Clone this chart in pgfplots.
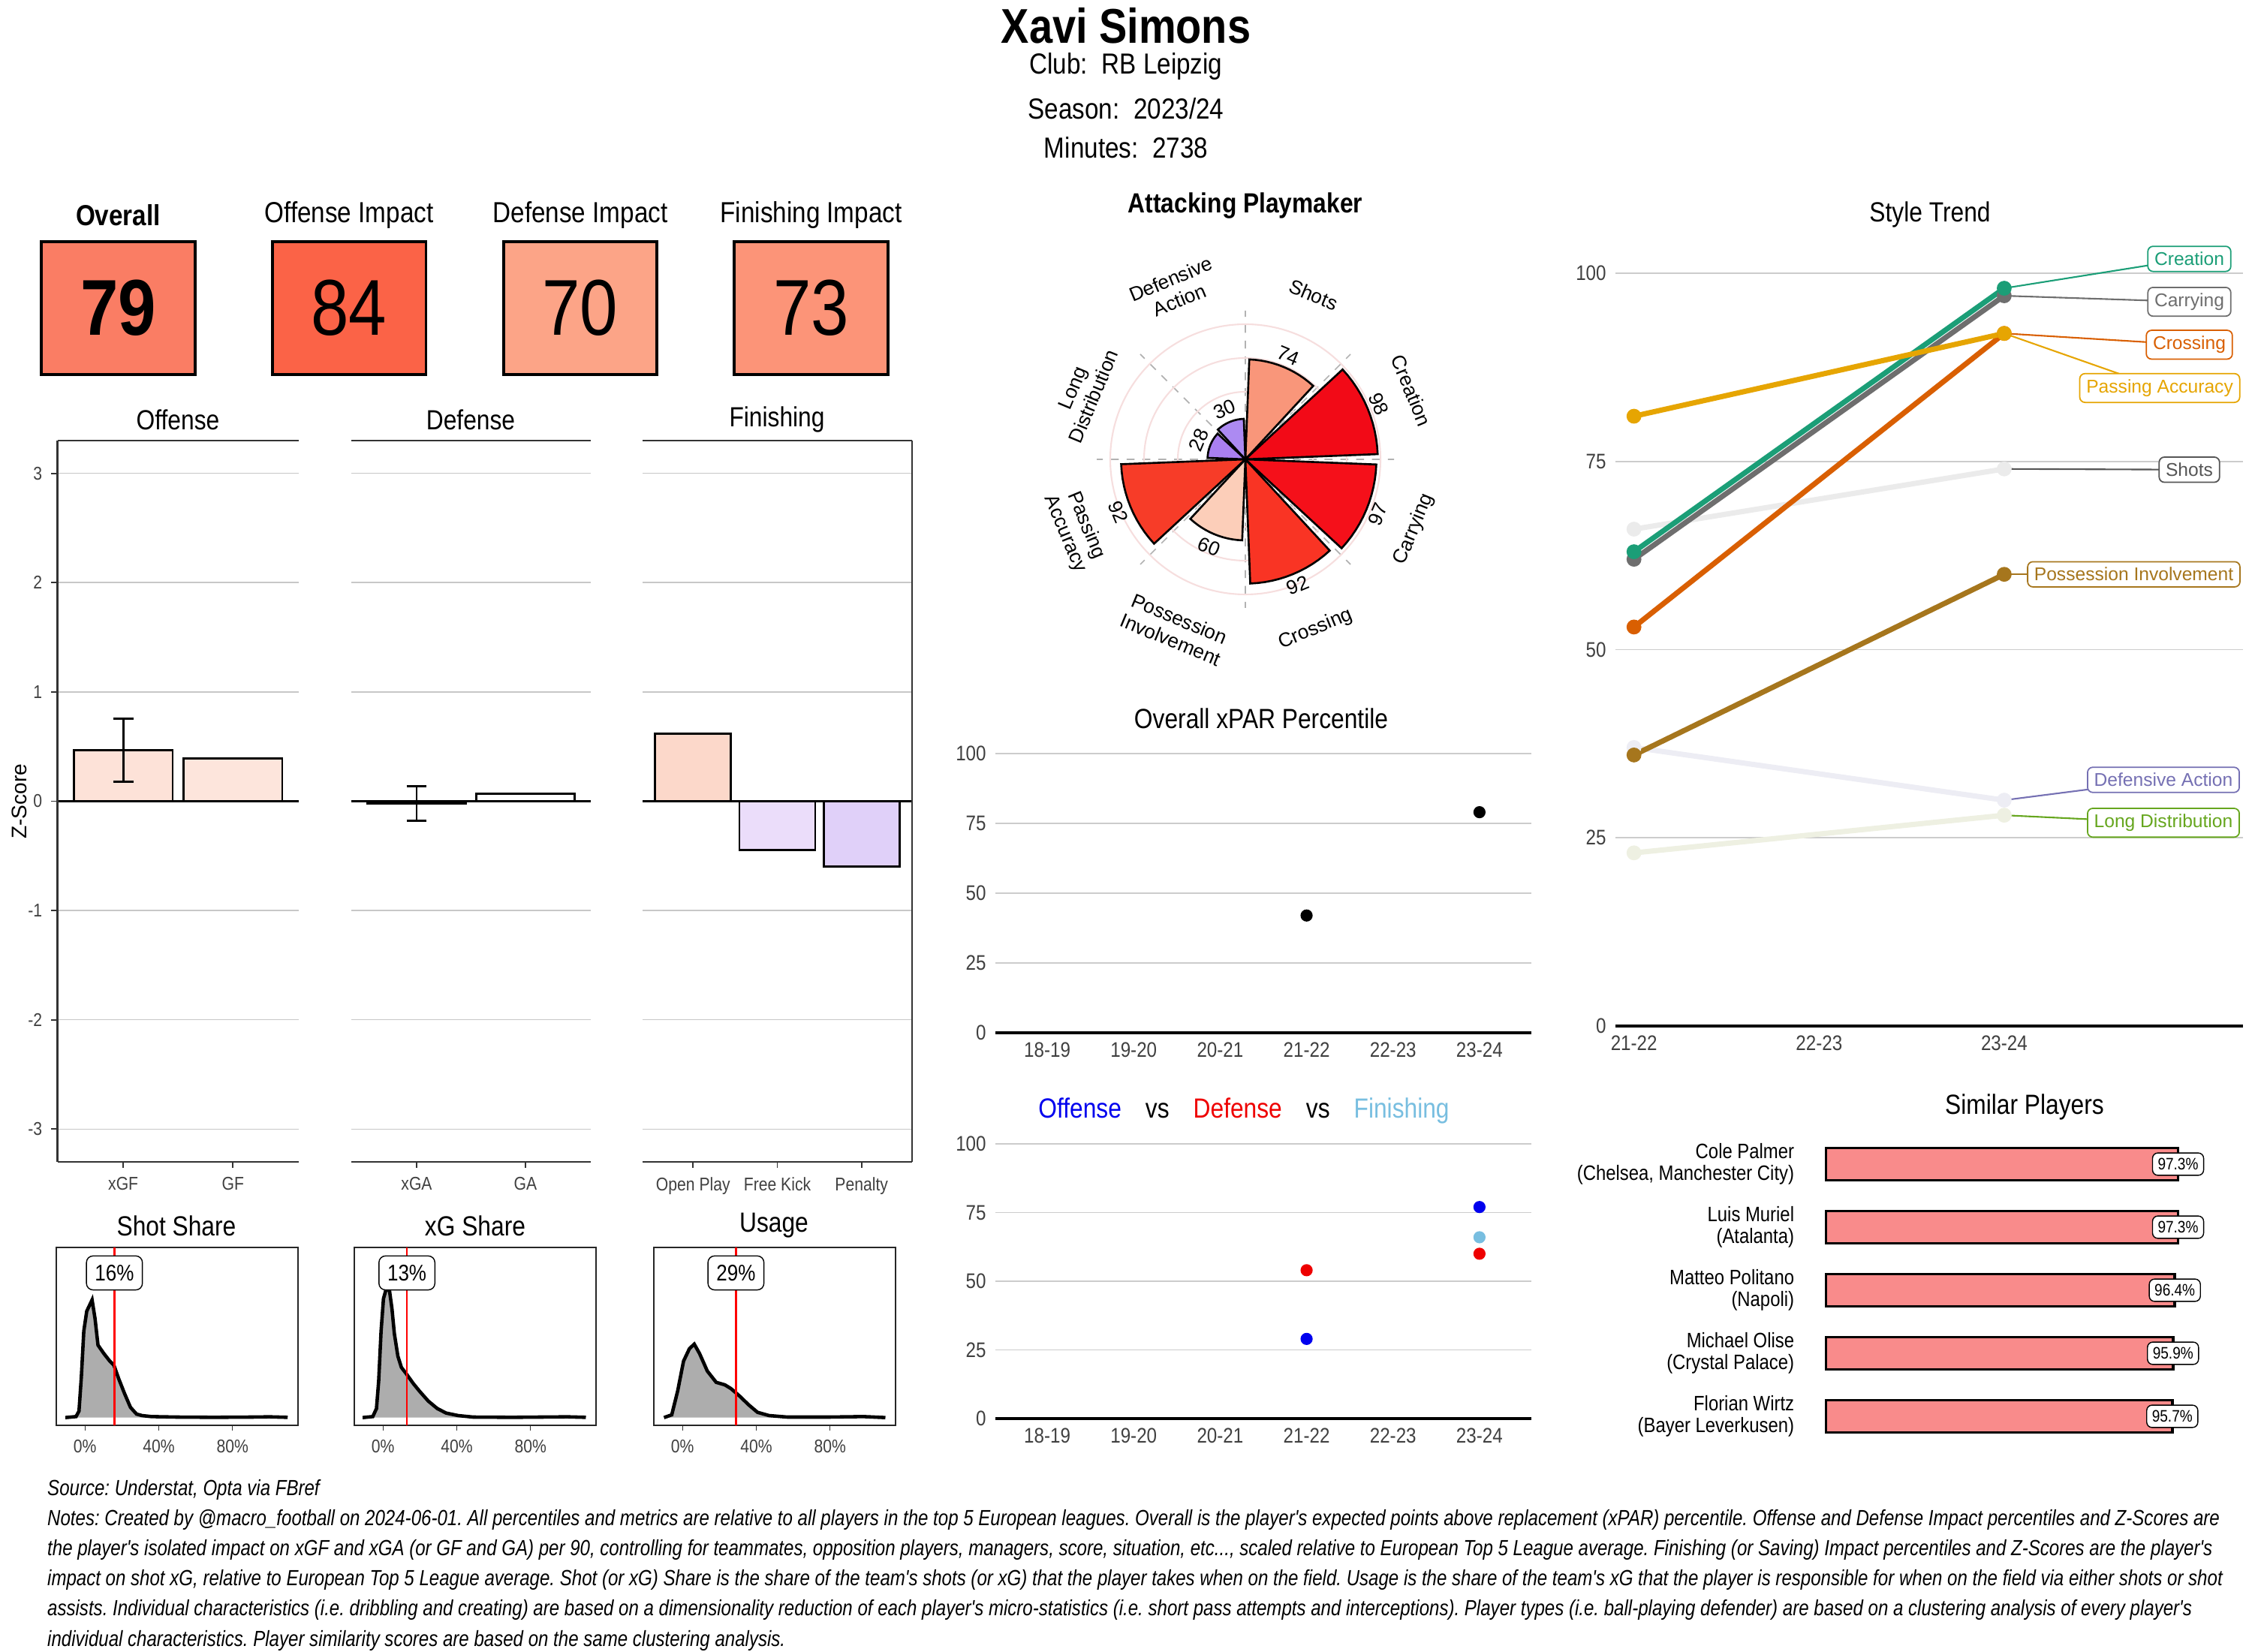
\documentclass[border=0pt]{standalone}
\usepackage{fontspec}
\setmainfont[FakeStretch=0.86]{Liberation Sans}
\newfontfamily\arial{Liberation Sans}
\newfontfamily\notefont[FakeStretch=0.825]{Liberation Sans}
\usepackage{pgfplots}
\usepackage{pgfplotstable}
\pgfplotsset{compat=1.18}
\usepgfplotslibrary{polar}

\newcommand{\fs}[2]{\fontsize{#1}{#2}\selectfont}

% tiles
\definecolor{b79}{HTML}{FA7D64}
\definecolor{b84}{HTML}{FB6347}
\definecolor{b70}{HTML}{FCA487}
\definecolor{b73}{HTML}{FC9478}
% z-score bars
\definecolor{zxgf}{HTML}{FDE2D8}
\definecolor{zgf}{HTML}{FDE5DC}
\definecolor{zop}{HTML}{FCD8CA}
\definecolor{zfk}{HTML}{EBDDFA}
\definecolor{zpen}{HTML}{E0D0F9}
% polar
\definecolor{cShots}{HTML}{F9967A}
\definecolor{cCreat}{HTML}{F20A17}
\definecolor{cCarry}{HTML}{F5101A}
\definecolor{cCross}{HTML}{F93424}
\definecolor{cPoss}{HTML}{FCCEB9}
\definecolor{cPass}{HTML}{F73C28}
\definecolor{cLong}{HTML}{A97FF0}
\definecolor{cDef}{HTML}{AC8AF2}
\definecolor{pgrid}{HTML}{F6DEDE}
% style trend (Dark2)
\definecolor{tCreat}{HTML}{1B9E77}
\definecolor{tCarry}{HTML}{6E6E6E}
\definecolor{tCross}{HTML}{D95F02}
\definecolor{tPass}{HTML}{E6A502}
\definecolor{tPoss}{HTML}{A6761D}
\definecolor{tDef}{HTML}{7570B3}
\definecolor{tLong}{HTML}{66A61E}
\definecolor{tShots}{HTML}{555555}
\definecolor{fShots}{HTML}{EBEBEB}
\definecolor{fDef}{HTML}{EDEDF4}
\definecolor{fLong}{HTML}{EEF0E2}
% misc
\definecolor{oblue}{HTML}{0000EE}
\definecolor{dred}{HTML}{EE0000}
\definecolor{fblue}{HTML}{78BEE0}
\definecolor{simpink}{HTML}{F98B8B}

% one polar bar: start angle, end angle, value, colour
\newcommand{\sector}[4]{%
  \gdef\pts{}%
  \foreach \k in {0,...,12}{%
    \pgfmathsetmacro\ang{(#1)+((#2)-(#1))*\k/12}%
    \xdef\pts{\pts (\ang,#3)}%
  }%
  \edef\doplot{\noexpand\addplot[fill=#4, draw=black, line width=0.75pt] coordinates {(0,0) \pts (0,0)};}%
  \doplot
}

\pgfplotstableread{
x y
-10.6 0
-4.8 4
-3.2 26
-1.9 166
-0.6 346
1.0 426
3.9 471
5.5 396
7.1 290
10.3 256
13.5 226
15.7 210
18.3 156
21.5 96
24.7 41
28.0 14
31.0 8
36.0 4
50 2
70 1
90 2
100 3
109.9 1
}\shotshare

\pgfplotstableread{
x y
-11 0
-5.5 4
-3.5 36
-2.3 146
-1.0 346
0.3 476
1.9 518
3.6 506
4.9 436
6.2 336
8.1 246
10.0 201
12.6 176
16.5 136
19.8 106
24.6 66
29.5 36
34.3 18
40.8 8
48.9 2
70 1
100 3
110 1
}\xgshare

\pgfplotstableread{
x y
-10 0
-5.8 11
-2.6 106
0.6 226
3.8 276
6.4 294
9.3 256
13.5 186
18.3 141
23 131
26.3 116
31 86
35.9 51
40.7 21
47 8
56.9 2
79 2
98 4
110 0
}\usage

\tikzset{
  dlab/.style={draw=black, fill=white, rounded corners=2.5pt, inner xsep=3.2pt, inner ysep=3.4pt, font=\fs{8.6}{8.6}},
}

\pgfplotsset{
  zpanel/.style={
    anchor=south west, scale only axis, height=9.61cm,
    ymin=-3.3, ymax=3.3, ytick={-3,-2,-1,0,1,2,3},
    ymajorgrids, y grid style={black!22, line width=0.45pt},
    axis line style={draw=none},
    tick align=outside, xtick pos=bottom, ytick pos=left,
    major tick length=0.08cm, tick style={black!80, line width=0.5pt},
    ticklabel style={font=\fs{7}{7}, text=black!75},
    /pgf/number format/assume math mode=true,
    ybar, bar width=0.9, bar shift=0pt, clip=false,
  },
  zerr/.style={
    error bars/.cd, y dir=both, y explicit,
    error bar style={line width=0.8pt, black},
    error mark options={rotate=90, black, line width=0.8pt, mark size=3.8pt},
  },
  dens/.style={
    anchor=south west, scale only axis, width=3.22cm, height=2.37cm,
    xmin=-15.5, xmax=115.5, ymin=-31, ymax=681,
    ytick=\empty, xtick={0,40,80}, xticklabels={0\%,40\%,80\%},
    axis line style={black!85, line width=0.6pt},
    tick align=outside, xtick pos=bottom, major tick length=0.07cm,
    tick style={black!80}, ticklabel style={font=\fs{7}{7}, text=black!75},
    clip=false,
  },
  season/.style={
    anchor=south west, scale only axis, width=7.14cm,
    xmin=0.4, xmax=6.6, ymin=0, ymax=100,
    xtick={1,2,3,4,5,6}, xticklabels={18-19,19-20,20-21,21-22,22-23,23-24},
    ytick={0,25,50,75,100}, ymajorgrids, y grid style={black!20, line width=0.5pt},
    axis line style={draw=none}, major tick length=0pt,
    ticklabel style={font=\fs{8}{8}, text=black!75},
    /pgf/number format/assume math mode=true, clip=false,
  },
}

\begin{document}
\frenchspacing
\begin{tikzpicture}
\useasboundingbox (0,0) rectangle (30,22);

% ---------- header
\node[font=\bfseries\fs{18.5}{20}] at (15,21.66) {Xavi Simons};
\node[font=\fs{11}{13}] at (15,21.11) {Club:\ \ RB Leipzig};
\node[font=\fs{11}{13}] at (15,20.55) {Season:\ \ 2023/24};
\node[font=\fs{11}{13}] at (15,20.03) {Minutes:\ \ 2738};

% ---------- percentile tiles
\node[font=\bfseries\fs{11}{13}] at (1.575,19.13) {Overall};
\node[font=\fs{11}{13}] at (4.65,19.13) {Offense Impact};
\node[font=\fs{11}{13}] at (7.73,19.13) {Defense Impact};
\node[font=\fs{11}{13}] at (10.805,19.13) {Finishing Impact};
\draw[fill=b79, line width=0.9pt] (0.55,17.01) rectangle (2.60,18.78);
\draw[fill=b84, line width=0.9pt] (3.63,17.01) rectangle (5.675,18.78);
\draw[fill=b70, line width=0.9pt] (6.71,17.01) rectangle (8.75,18.78);
\draw[fill=b73, line width=0.9pt] (9.78,17.01) rectangle (11.83,18.78);
\node[font=\bfseries\fs{30}{30}] at (1.575,17.9) {79};
\node[font=\fs{30}{30}] at (4.65,17.9) {84};
\node[font=\fs{30}{30}] at (7.73,17.9) {70};
\node[font=\fs{30}{30}] at (10.805,17.9) {73};

% ---------- z-scores
\node[font=\fs{10.5}{12}] at (2.37,16.41) {Offense};
\node[font=\fs{10.5}{12}] at (6.27,16.41) {Defense};
\node[font=\fs{10.5}{12}] at (10.35,16.41) {Finishing};
\node[rotate=90, font=\arial\fs{8}{8}] at (0.26,11.32) {Z-Score};

\begin{axis}[zpanel, at={(0.765cm,6.52cm)}, width=3.215cm,
  xmin=0.4, xmax=2.6, xtick={1,2}, xticklabels={xGF,GF}]
\addplot[fill=zxgf, draw=black, line width=0.8pt, zerr]
  coordinates {(1,0.466) +- (0,0.29)};
\addplot[fill=zgf, draw=black, line width=0.8pt] coordinates {(2,0.394)};
\draw[black, line width=0.9pt] (axis cs:0.4,0) -- (axis cs:2.6,0);
\draw[black!80, line width=0.6pt] (rel axis cs:0,1) -- (rel axis cs:1,1);
\draw[black!80, line width=0.6pt] (rel axis cs:0,0) -- (rel axis cs:1,0);
\draw[black!80, line width=0.6pt] (rel axis cs:0,0) -- (rel axis cs:0,1);
\end{axis}

\begin{axis}[zpanel, at={(4.68cm,6.52cm)}, width=3.19cm,
  xmin=0.4, xmax=2.6, xtick={1,2}, xticklabels={xGA,GA},
  ytick style={draw=none}, yticklabels={}]
\addplot[fill=zxgf, draw=black, line width=0.8pt, zerr]
  coordinates {(1,-0.02) +- (0,0.16)};
\addplot[fill=white, draw=black, line width=0.8pt] coordinates {(2,0.066)};
\draw[black, line width=0.9pt] (axis cs:0.4,0) -- (axis cs:2.6,0);
\draw[black!80, line width=0.6pt] (rel axis cs:0,1) -- (rel axis cs:1,1);
\draw[black!80, line width=0.6pt] (rel axis cs:0,0) -- (rel axis cs:1,0);
\end{axis}

\begin{axis}[zpanel, at={(8.56cm,6.52cm)}, width=3.59cm,
  xmin=0.4, xmax=3.6, xtick={1,2,3}, xticklabels={Open Play,Free Kick,Penalty},
  ytick style={draw=none}, yticklabels={}]
\addplot[fill=zop, draw=black, line width=0.8pt] coordinates {(1,0.617)};
\addplot[fill=zfk, draw=black, line width=0.8pt] coordinates {(2,-0.446)};
\addplot[fill=zpen, draw=black, line width=0.8pt] coordinates {(3,-0.60)};
\draw[black, line width=0.9pt] (axis cs:0.4,0) -- (axis cs:3.6,0);
\draw[black!80, line width=0.6pt] (rel axis cs:0,1) -- (rel axis cs:1,1);
\draw[black!80, line width=0.6pt] (rel axis cs:0,0) -- (rel axis cs:1,0);
\draw[black!80, line width=0.6pt] (rel axis cs:1,0) -- (rel axis cs:1,1);
\end{axis}

% ---------- share densities
\node[font=\fs{10.5}{12}] at (2.35,5.67) {Shot Share};
\node[font=\fs{10.5}{12}] at (6.33,5.67) {xG Share};
\node[font=\fs{10.5}{12}] at (10.31,5.67) {Usage};

\begin{axis}[dens, at={(0.75cm,3.01cm)}]
\addplot[fill=black!32, draw=none] table {\shotshare} \closedcycle;
\addplot[black, line width=1.3pt] table {\shotshare};
\addplot[red, line width=0.7pt] coordinates {(16,-31) (16,681)};
\node[dlab] at (axis cs:16,579) {16\%};
\end{axis}

\begin{axis}[dens, at={(4.72cm,3.01cm)}]
\addplot[fill=black!32, draw=none] table {\xgshare} \closedcycle;
\addplot[black, line width=1.3pt] table {\xgshare};
\addplot[red, line width=0.7pt] coordinates {(13,-31) (13,681)};
\node[dlab] at (axis cs:13,579) {13\%};
\end{axis}

\begin{axis}[dens, at={(8.71cm,3.01cm)}]
\addplot[fill=black!32, draw=none] table {\usage} \closedcycle;
\addplot[black, line width=1.3pt] table {\usage};
\addplot[red, line width=0.7pt] coordinates {(29,-31) (29,681)};
\node[dlab] at (axis cs:29,579) {29\%};
\end{axis}

% ---------- player type polar bars
\node[font=\bfseries\fs{10.5}{12}] at (16.59,19.26) {Attacking Playmaker};
\begin{polaraxis}[at={(16.59cm,15.88cm)}, anchor=center, scale only axis,
  width=3.96cm, height=3.96cm, ymin=0, ymax=110,
  xtick={0,45,...,315}, ytick={25,50,75,100},
  xticklabels={}, yticklabels={}, major tick length=0pt,
  xmajorgrids, ymajorgrids,
  x grid style={black!30, dash pattern=on 3pt off 3pt, line width=0.5pt},
  y grid style={pgrid, line width=0.6pt},
  axis line style={draw=none}, clip=false]
\sector{47.25}{87.75}{74}{cShots}
\sector{2.25}{42.75}{98}{cCreat}
\sector{-42.75}{-2.25}{97}{cCarry}
\sector{-87.75}{-47.25}{92}{cCross}
\sector{-132.75}{-92.25}{60}{cPoss}
\sector{-177.75}{-137.25}{92}{cPass}
\sector{137.25}{177.75}{28}{cLong}
\sector{92.25}{132.75}{30}{cDef}
\begin{scope}[every node/.style={font=\arial\fs{7.5}{8.6}, align=center}]
\node[rotate=-22.5] at (axis cs:67.5,83) {74};
\node[rotate=-67.5] at (axis cs:22.5,107) {98};
\node[rotate=67.5] at (axis cs:-22.5,106) {97};
\node[rotate=22.5] at (axis cs:-67.5,101) {92};
\node[rotate=-22.5] at (axis cs:-112.5,70) {60};
\node[rotate=-67.5] at (axis cs:-157.5,102) {92};
\node[rotate=67.5] at (axis cs:157.5,37.5) {28};
\node[rotate=22.5] at (axis cs:112.5,40) {30};
\node[rotate=-22.5] at (axis cs:67.5,132) {Shots};
\node[rotate=-67.5] at (axis cs:22.5,133) {Creation};
\node[rotate=67.5] at (axis cs:-22.5,135) {Carrying};
\node[rotate=22.5] at (axis cs:-67.5,136) {Crossing};
\node[rotate=-22.5] at (axis cs:-112.5,136) {Possession\\Involvement};
\node[rotate=-67.5] at (axis cs:-157.5,136) {Passing\\Accuracy};
\node[rotate=67.5] at (axis cs:157.5,130) {Long\\Distribution};
\node[rotate=22.5] at (axis cs:112.5,136) {Defensive\\Action};
\end{scope}
\end{polaraxis}

% ---------- overall xPAR by season
\node[font=\fs{10.5}{12}] at (16.80,12.43) {Overall xPAR Percentile};
\begin{axis}[season, at={(13.26cm,8.24cm)}, height=3.72cm]
\draw[black, line width=1.3pt] (axis cs:0.4,0) -- (axis cs:6.6,0);
\addplot[only marks, mark=*, mark size=2.1pt, black] coordinates {(4,42) (6,79)};
\end{axis}

% ---------- offense / defense / finishing by season
\node[font=\fs{10.5}{12}] at (16.57,7.20) {\textcolor{oblue}{Offense}\hspace{0.32cm}vs\hspace{0.32cm}\textcolor{dred}{Defense}\hspace{0.32cm}vs\hspace{0.32cm}\textcolor{fblue}{Finishing}};
\begin{axis}[season, at={(13.26cm,3.10cm)}, height=3.66cm]
\draw[black, line width=1.3pt] (axis cs:0.4,0) -- (axis cs:6.6,0);
\addplot[only marks, mark=*, mark size=2.1pt, oblue] coordinates {(4,29) (6,77)};
\addplot[only marks, mark=*, mark size=2.1pt, dred] coordinates {(4,54) (6,60)};
\addplot[only marks, mark=*, mark size=2.1pt, fblue] coordinates {(6,66)};
\end{axis}

% ---------- style trend
\node[font=\fs{10.5}{12}] at (25.71,19.14) {Style Trend};
\begin{axis}[anchor=south west, at={(21.52cm,8.33cm)}, scale only axis,
  width=8.36cm, height=10.03cm, xmin=0.9, xmax=4.29, ymin=0, ymax=100,
  xtick={1,2,3}, xticklabels={21-22,22-23,23-24},
  ytick={0,25,50,75,100}, ymajorgrids, y grid style={black!20, line width=0.5pt},
  axis line style={draw=none}, major tick length=0pt,
  ticklabel style={font=\fs{8}{8}, text=black!75},
  /pgf/number format/assume math mode=true, clip=false]
\draw[black, line width=1.3pt] (axis cs:0.9,0) -- (axis cs:4.29,0);
\addplot[fLong, line width=2pt, mark=*, mark size=1.8pt] coordinates {(1,23) (3,28)};
\addplot[fDef, line width=2pt, mark=*, mark size=1.8pt] coordinates {(1,37) (3,30)};
\addplot[fShots, line width=2pt, mark=*, mark size=1.8pt] coordinates {(1,66) (3,74)};
\addplot[tPoss, line width=2pt, mark=*, mark size=1.8pt] coordinates {(1,36) (3,60)};
\addplot[tCross, line width=2pt, mark=*, mark size=1.8pt] coordinates {(1,53) (3,92)};
\addplot[tCarry, line width=2pt, mark=*, mark size=1.8pt] coordinates {(1,62) (3,97)};
\addplot[tCreat, line width=2pt, mark=*, mark size=1.8pt] coordinates {(1,63) (3,98)};
\addplot[tPass, line width=2pt, mark=*, mark size=1.8pt] coordinates {(1,81) (3,92)};
\draw[tCreat, line width=0.6pt] (axis cs:3,98) -- (axis cs:4.0,101.9);
\draw[tCarry, line width=0.6pt] (axis cs:3,97) -- (axis cs:4.0,96.2);
\draw[tCross, line width=0.6pt] (axis cs:3,92) -- (axis cs:4.0,90.5);
\draw[tPass, line width=0.6pt] (axis cs:3,92) -- (axis cs:3.84,84.75);
\draw[tShots, line width=0.6pt] (axis cs:3,74) -- (axis cs:4.0,73.9);
\draw[tPoss, line width=0.6pt] (axis cs:3,60) -- (axis cs:3.70,60);
\draw[tDef, line width=0.6pt] (axis cs:3,30) -- (axis cs:3.86,32.7);
\draw[tLong, line width=0.6pt] (axis cs:3,28) -- (axis cs:3.86,27.0);
\begin{scope}[every node/.style={fill=white, rounded corners=2pt, inner xsep=2.5pt, inner ysep=2.2pt, font=\arial\fs{7}{7}, line width=0.5pt}]
\node[draw=tCreat, text=tCreat] at (axis cs:4.0,101.9) {Creation};
\node[draw=tCarry, text=tCarry] at (axis cs:4.0,96.2) {Carrying};
\node[draw=tCross, text=tCross] at (axis cs:4.0,90.5) {Crossing};
\node[draw=tPass, text=tPass] at (axis cs:3.84,84.75) {Passing Accuracy};
\node[draw=tShots, text=tShots] at (axis cs:4.0,73.9) {Shots};
\node[draw=tPoss, text=tPoss] at (axis cs:3.70,60) {Possession Involvement};
\node[draw=tDef, text=tDef] at (axis cs:3.86,32.7) {Defensive Action};
\node[draw=tLong, text=tLong] at (axis cs:3.86,27.0) {Long Distribution};
\end{scope}
\end{axis}

% ---------- similar players
\node[font=\fs{10.5}{12}] at (26.97,7.25) {Similar Players};
\begin{axis}[anchor=south west, at={(24.325cm,2.71cm)}, scale only axis,
  width=4.82cm, height=4.2cm, xmin=0, xmax=100, ymin=0.5, ymax=5.5,
  y dir=reverse, xbar, bar width=0.515, bar shift=0pt,
  axis line style={draw=none}, xtick=\empty, ytick={1,2,3,4,5},
  ytick style={draw=none},
  yticklabels={{Cole Palmer\\(Chelsea, Manchester City)},{Luis Muriel\\(Atalanta)},{Matteo Politano\\(Napoli)},{Michael Olise\\(Crystal Palace)},{Florian Wirtz\\(Bayer Leverkusen)}},
  yticklabel style={align=right, font=\fs{7.9}{8.4}, text=black, xshift=-0.15cm},
  clip=false]
\addplot[fill=simpink, draw=black, line width=1pt] coordinates {(97.3,1) (97.3,2) (96.4,3) (95.9,4) (95.7,5)};
\begin{scope}[every node/.style={draw=black, fill=white, rounded corners=2pt, inner sep=2pt, font=\fs{6.3}{6.3}}]
\node at (axis cs:97.3,1) {97.3\%};
\node at (axis cs:97.3,2) {97.3\%};
\node at (axis cs:96.4,3) {96.4\%};
\node at (axis cs:95.9,4) {95.9\%};
\node at (axis cs:95.7,5) {95.7\%};
\end{scope}
\end{axis}

% ---------- caption
\begin{scope}[every node/.style={anchor=base west, inner sep=0pt, font=\notefont\itshape\fs{8.3}{10}}]
\node at (0.625,2.08) {Source: Understat, Opta via FBref};
\node at (0.625,1.68) {Notes: Created by @macro\_football on 2024-06-01. All percentiles and metrics are relative to all players in the top 5 European leagues. Overall is the player's expected points above replacement (xPAR) percentile. Offense and Defense Impact percentiles and Z-Scores are};
\node at (0.625,1.277) {the player's isolated impact on xGF and xGA (or GF and GA) per 90, controlling for teammates, opposition players, managers, score, situation, etc..., scaled relative to European Top 5 League average. Finishing (or Saving) Impact percentiles and Z-Scores are the player's};
\node at (0.625,0.874) {impact on shot xG, relative to European Top 5 League average. Shot (or xG) Share is the share of the team's shots (or xG) that the player takes when on the field. Usage is the share of the team's xG that the player is responsible for when on the field via either shots or shot};
\node at (0.625,0.471) {assists. Individual characteristics (i.e. dribbling and creating) are based on a dimensionality reduction of each player's micro-statistics (i.e. short pass attempts and interceptions). Player types (i.e. ball-playing defender) are based on a clustering analysis of every player's};
\node at (0.625,0.068) {individual characteristics. Player similarity scores are based on the same clustering analysis.};
\end{scope}
\end{tikzpicture}
\end{document}
